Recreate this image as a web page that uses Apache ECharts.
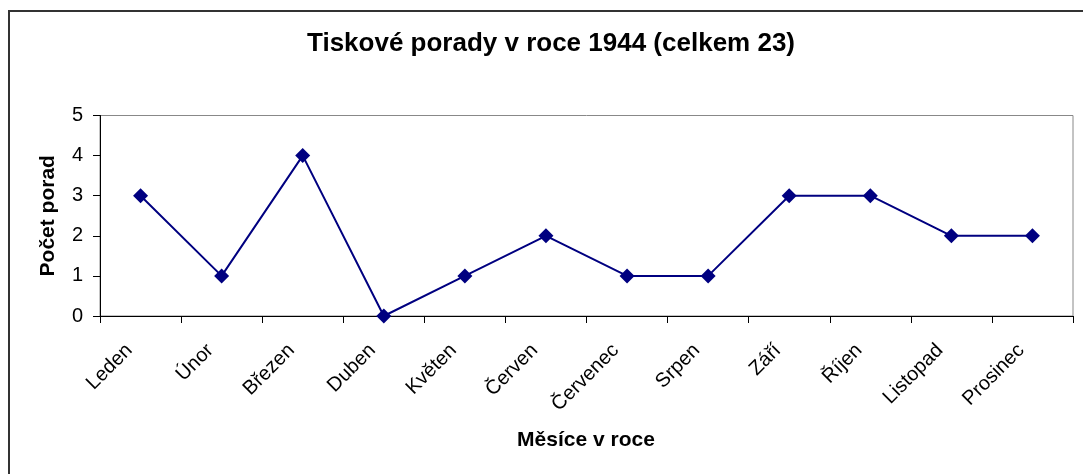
<!DOCTYPE html>
<html><head><meta charset="utf-8">
<script src="https://cdn.jsdelivr.net/npm/echarts@6/dist/echarts.min.js"></script>
<style>html,body{margin:0;padding:0;background:#fff}#c{width:1083px;height:474px}</style>
</head><body><div id="c"></div>
<script>
const months = ['Leden','Únor','Březen','Duben','Květen','Červen','Červenec','Srpen','Září','Říjen','Listopad','Prosinec'];
const counts = [3,1,4,0,1,2,1,1,3,3,2,2];
const yTicks = [0,1,2,3,4,5];
const titleText = 'Tiskové porady v roce 1944 (celkem 23)';
const xName = 'Měsíce v roce';
const yName = 'Počet porad';

const chart = echarts.init(document.getElementById('c'), null, {renderer:'canvas'});
const F = 'Liberation Sans, Arial, sans-serif';
chart.setOption({
  animation:false,
  backgroundColor:'#fff',
  graphic:[
    {type:'rect',shape:{x:9,y:11,width:1200,height:600},style:{fill:'none',stroke:'#333',lineWidth:2},z:-1},
    {type:'text',style:{text:titleText,font:'bold 26px '+F,fill:'#000',x:551,y:44,align:'center',verticalAlign:'middle'}},
    {type:'text',style:{text:xName,font:'bold 21px '+F,fill:'#000',x:586,y:440,align:'center',verticalAlign:'middle'}},
  ],
  grid:{left:100,right:10,top:115.5,bottom:158,show:true,borderColor:'#888',borderWidth:1,backgroundColor:'transparent'},
  xAxis:{type:'category',data:months,boundaryGap:true,
    axisLine:{lineStyle:{color:'#000',width:1}},
    axisTick:{show:true,length:7,inside:false,alignWithLabel:false,lineStyle:{color:'#000'}},
    axisLabel:{rotate:45,fontFamily:F,fontSize:20,color:'#000',margin:20,padding:[0,16,0,0],interval:0},
    splitLine:{show:false}},
  yAxis:{type:'value',min:0,max:5,interval:1,
    name:yName,nameLocation:'middle',nameGap:41,nameRotate:90,
    nameTextStyle:{fontFamily:F,fontSize:21,fontWeight:'bold',color:'#000'},
    axisLine:{show:true,lineStyle:{color:'#000',width:1}},
    axisTick:{show:true,length:7,lineStyle:{color:'#000'}},
    axisLabel:{fontFamily:F,fontSize:20,color:'#000',margin:17,formatter:v=>yTicks.includes(v)?String(v):''},
    splitLine:{show:false}},
  series:[{type:'line',data:counts,symbol:'diamond',symbolSize:15,
    lineStyle:{color:'#000080',width:2},itemStyle:{color:'#000080'}}]
});
</script></body></html>
